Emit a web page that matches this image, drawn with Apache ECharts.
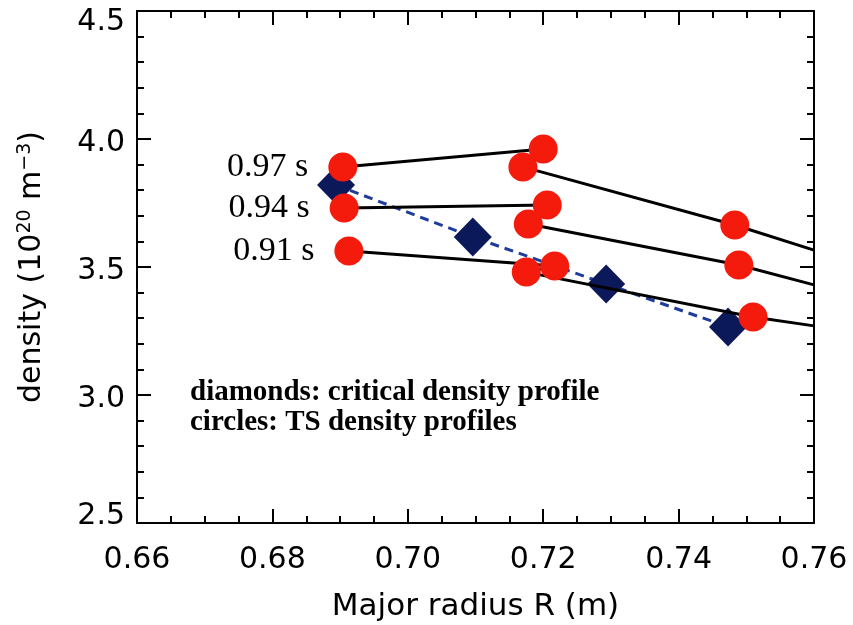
<!DOCTYPE html>
<html>
<head>
<meta charset="utf-8">
<script src="https://cdn.jsdelivr.net/npm/echarts@6/dist/echarts.min.js"></script>
<style>
html,body{margin:0;padding:0;background:#fff;}
#chart{width:853px;height:625px;}
</style>
</head>
<body>
<div id="chart"></div>
<script>
// ---- data ----
const timeLabels = ['0.97 s', '0.94 s', '0.91 s'];
// TS circles (in the order the profile line joins them)
const r097 = [0.6904, 0.7200, 0.7170, 0.7483];
const n097 = [3.891, 3.961, 3.891, 3.664];
const r094 = [0.6906, 0.7206, 0.7178, 0.7489];
const n094 = [3.730, 3.742, 3.668, 3.508];
const r091 = [0.6913, 0.7217, 0.7175, 0.7510];
const n091 = [3.5625, 3.504, 3.480, 3.305];
// where each profile line leaves the plot at the right edge
const lineEndR = [0.76, 0.76, 0.76];
const lineEndN = [3.566, 3.430, 3.270];
// critical density diamonds
const rDiamond = [0.6894, 0.7096, 0.7293, 0.7473];
const nDiamond = [3.820, 3.617, 3.434, 3.266];
// axes
const xMin = 0.66, xMax = 0.76, xStep = 0.02;
const yMin = 2.5, yMax = 4.5, yStep = 0.5;
const noteLines = ['diamonds: critical density profile', 'circles: TS density profiles'];

const profilesR = [r097, r094, r091];
const profilesN = [n097, n094, n091];

const RED = '#f41a0c';
const NAVY = '#0b185a';
const DASH = '#1f3c9c';
const sans = 'DejaVu Sans';
const serif = 'Liberation Serif';

const series = [];
// dashed critical-density line
series.push({
  type: 'line', xAxisIndex: 0, yAxisIndex: 0,
  data: rDiamond.map((r, i) => [r, nDiamond[i]]),
  showSymbol: false, symbol: 'none',
  lineStyle: {color: DASH, width: 3, type: [9, 6], opacity: 1},
  z: 2, silent: true
});
// diamonds
series.push({
  type: 'scatter', xAxisIndex: 0, yAxisIndex: 0,
  data: rDiamond.map((r, i) => [r, nDiamond[i]]),
  symbol: 'diamond', symbolSize: [38, 39],
  itemStyle: {color: NAVY, opacity: 1},
  z: 3, silent: true
});
// profile lines
profilesR.forEach((rs, k) => {
  const pts = rs.map((r, i) => [r, profilesN[k][i]]);
  pts.push([lineEndR[k], lineEndN[k]]);
  series.push({
    type: 'line', xAxisIndex: 0, yAxisIndex: 0,
    data: pts, showSymbol: false, symbol: 'none',
    lineStyle: {color: '#000', width: 3, opacity: 1},
    z: 4, silent: true
  });
});
// circles
profilesR.forEach((rs, k) => {
  series.push({
    type: 'scatter', xAxisIndex: 0, yAxisIndex: 0,
    data: rs.map((r, i) => {
      const d = {value: [r, profilesN[k][i]]};
      if (i === 0) {
        d.label = {
          show: true, position: 'left', distance: 20,
          formatter: timeLabels[k],
          fontFamily: serif, fontSize: 34, color: '#000', opacity: 1
        };
      }
      return d;
    }),
    symbol: 'circle', symbolSize: 29,
    itemStyle: {color: RED, opacity: 1},
    z: 5, silent: true
  });
});

const tickStyle = {color: '#000', width: 2};
const option = {
  backgroundColor: '#fff',
  animation: false,
  grid: {left: 137, top: 11, width: 677, height: 512, containLabel: false, outerBoundsMode: 'none'},
  xAxis: [
    {
      type: 'value', position: 'bottom', min: xMin, max: xMax, interval: xStep,
      axisLine: {show: true, onZero: false, lineStyle: {color: '#000', width: 2}},
      axisTick: {show: true, inside: true, length: 14, lineStyle: tickStyle},
      minorTick: {show: true, splitNumber: 4, length: 7, lineStyle: tickStyle},
      splitLine: {show: false},
      axisLabel: {
        fontFamily: sans, fontSize: 30, color: '#000', margin: 22,
        formatter: v => v.toFixed(2)
      },
      name: 'Major radius R (m)', nameLocation: 'middle', nameGap: 68,
      nameTextStyle: {fontFamily: sans, fontSize: 31, color: '#000'}
    },
    {
      type: 'value', position: 'top', min: xMin, max: xMax, interval: xStep,
      axisLine: {show: true, onZero: false, lineStyle: {color: '#000', width: 2}},
      axisTick: {show: true, inside: true, length: 14, lineStyle: tickStyle},
      minorTick: {show: true, splitNumber: 4, length: 7, lineStyle: tickStyle},
      splitLine: {show: false}, axisLabel: {show: false}
    }
  ],
  yAxis: [
    {
      type: 'value', position: 'left', min: yMin, max: yMax, interval: yStep,
      axisLine: {show: true, onZero: false, lineStyle: {color: '#000', width: 2}},
      axisTick: {show: true, inside: true, length: 14, lineStyle: tickStyle},
      minorTick: {show: true, splitNumber: 5, length: 7, lineStyle: tickStyle},
      splitLine: {show: false},
      axisLabel: {
        fontFamily: sans, fontSize: 30, color: '#000', margin: 12,
        formatter: v => {
          const s = v.toFixed(1);
          if (Math.abs(v - yMax) < 1e-9) return '{hi|' + s + '}';
          if (Math.abs(v - yMin) < 1e-9) return '{lo|' + s + '}';
          return '{mid|' + s + '}';
        },
        rich: {
          hi: {fontFamily: sans, fontSize: 30, color: '#000', padding: [22, 0, 0, 0]},
          mid: {fontFamily: sans, fontSize: 30, color: '#000', padding: [8, 0, 0, 0]},
          lo: {fontFamily: sans, fontSize: 30, color: '#000', padding: [0, 0, 14, 0]}
        }
      },
      name: 'density (10{sup|20} m{sup|\u22123})',
      nameLocation: 'middle', nameGap: 88, nameRotate: 90,
      nameTextStyle: {
        fontFamily: sans, fontSize: 30, color: '#000',
        rich: {sup: {fontFamily: sans, fontSize: 19, color: '#000', verticalAlign: 'top', padding: [0, 0, 14, 0]}}
      }
    },
    {
      type: 'value', position: 'right', min: yMin, max: yMax, interval: yStep,
      axisLine: {show: true, onZero: false, lineStyle: {color: '#000', width: 2}},
      axisTick: {show: true, inside: true, length: 14, lineStyle: tickStyle},
      minorTick: {show: true, splitNumber: 5, length: 7, lineStyle: tickStyle},
      splitLine: {show: false}, axisLabel: {show: false}
    }
  ],
  graphic: [{
    type: 'text', left: 190, top: 378, silent: true,
    style: {
      text: noteLines.join('\n'),
      fontFamily: serif, fontWeight: 'bold', fontSize: 29, lineHeight: 30,
      fill: '#000'
    }
  }],
  series: series
};

const chart = echarts.init(document.getElementById('chart'), null, {renderer: 'canvas'});
chart.setOption(option);
</script>
</body>
</html>
